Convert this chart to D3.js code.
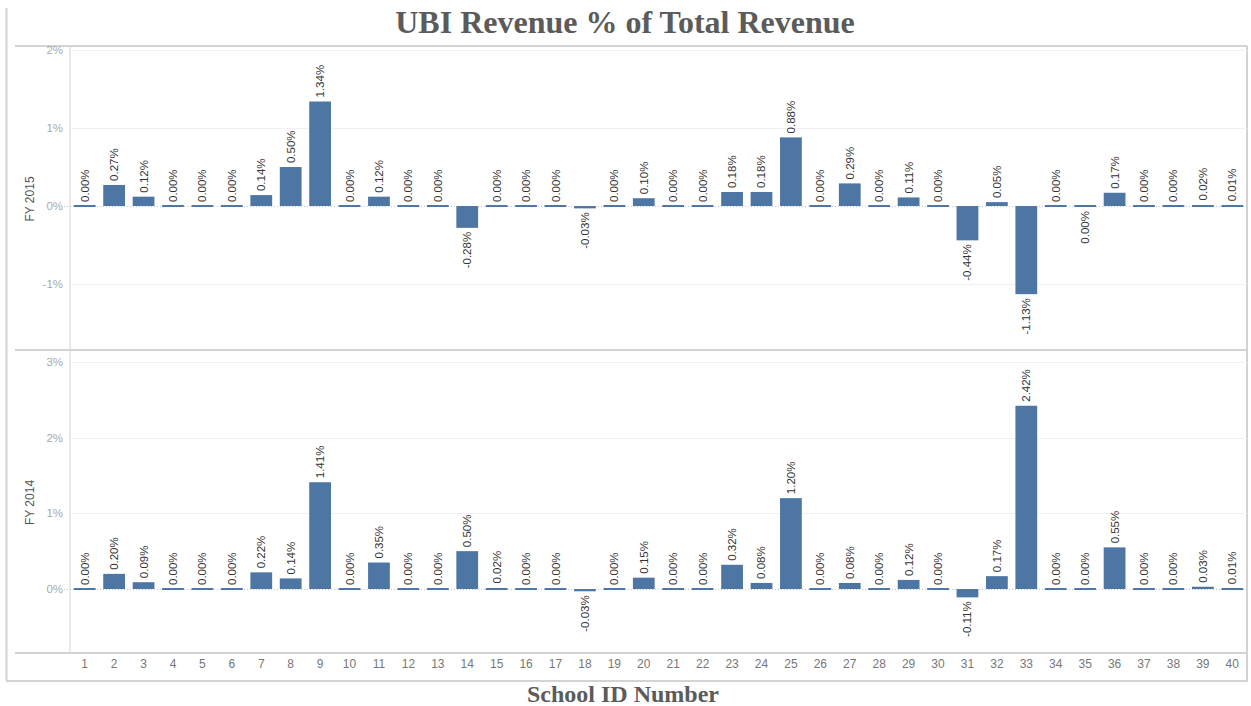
<!DOCTYPE html>
<html>
<head>
<meta charset="utf-8">
<script src="https://cdn.jsdelivr.net/npm/d3@7"></script>
<style>
body { margin: 0; background: #fff; }
svg { display: block; }
</style>
</head>
<body>
<div id="chart"></div>
<script>
/* global d3 */
var schoolIds = d3.range(1, 41).map(String);
var fy2015 = [0.00, 0.27, 0.12, 0.00, 0.00, 0.00, 0.14, 0.50, 1.34, 0.00,
	0.12, 0.00, 0.00, -0.28, 0.00, 0.00, 0.00, -0.03, 0.00, 0.10,
	0.00, 0.00, 0.18, 0.18, 0.88, 0.00, 0.29, 0.00, 0.11, 0.00,
	-0.44, 0.05, -1.13, 0.00, -0.001, 0.17, 0.00, 0.00, 0.02, 0.01];
var fy2014 = [0.00, 0.20, 0.09, 0.00, 0.00, 0.00, 0.22, 0.14, 1.41, 0.00,
	0.35, 0.00, 0.00, 0.50, 0.02, 0.00, 0.00, -0.03, 0.00, 0.15,
	0.00, 0.00, 0.32, 0.08, 1.20, 0.00, 0.08, 0.00, 0.12, 0.00,
	-0.11, 0.17, 2.42, 0.00, 0.00, 0.55, 0.00, 0.00, 0.03, 0.01];
var rowNames = ["FY 2015", "FY 2014"];
var rowTicks = [[-1, 0, 1, 2], [0, 1, 2, 3]];
var rowDomains = [[-1.846, 2.026], [-0.845, 3.13]];

var width = 1251, height = 706;
var barColor = "#4e76a5";
var lineColor = "#d3d3d3";
var left = 70, right = 1247;
var panels = [{ top: 48, bottom: 350, data: fy2015 }, { top: 352, bottom: 653, data: fy2014 }];

var locale = d3.formatLocale({ decimal: ".", thousands: ",", grouping: [3], currency: ["", ""], minus: "-" });
var fmt = locale.format(".2f");

var svg = d3.select("#chart").append("svg").attr("width", width).attr("height", height);

var x = d3.scaleBand().domain(schoolIds).range([left, right]).paddingInner(0.26).paddingOuter(0.13);

// title
svg.append("text").attr("x", 625).attr("y", 33).attr("text-anchor", "middle")
	.style("font-family", "'Liberation Serif', 'Times New Roman', serif").style("font-weight", "bold")
	.style("font-size", "32px").style("fill", "#5b5b5b").text("UBI Revenue % of Total Revenue");

// outer frame
svg.append("line").attr("x1", 6.5).attr("x2", 6.5).attr("y1", 8).attr("y2", 681).attr("stroke", lineColor).attr("stroke-width", 2);
svg.append("line").attr("x1", 6).attr("x2", 1248).attr("y1", 681).attr("y2", 681).attr("stroke", lineColor).attr("stroke-width", 2);
svg.append("line").attr("x1", 1247).attr("x2", 1247).attr("y1", 46).attr("y2", 681).attr("stroke", lineColor).attr("stroke-width", 2);

// panel separators
[46, 350, 653].forEach(function(yy) {
	svg.append("line").attr("x1", 15).attr("x2", 1247).attr("y1", yy).attr("y2", yy)
		.attr("stroke", lineColor).attr("stroke-width", 2);
});
svg.append("line").attr("x1", left).attr("x2", left).attr("y1", 46).attr("y2", 653)
	.attr("stroke", lineColor).attr("stroke-width", 1);

panels.forEach(function(p, i) {
	var y = d3.scaleLinear().domain(rowDomains[i]).range([p.bottom, p.top]);
	var g = svg.append("g");

	// gridlines
	g.selectAll(".grid").data(rowTicks[i].filter(function(t) { return t !== 0; })).enter()
		.append("line").attr("x1", left + 1).attr("x2", right)
		.attr("y1", function(d) { return Math.round(y(d)) + 0.5; })
		.attr("y2", function(d) { return Math.round(y(d)) + 0.5; })
		.attr("stroke", "#f0f0f0").attr("stroke-width", 1);

	// zero line
	g.append("line").attr("x1", left - 6).attr("x2", right)
		.attr("y1", Math.round(y(0)) + 0.5).attr("y2", Math.round(y(0)) + 0.5)
		.attr("stroke", "#c4c4c4").attr("stroke-dasharray", "1,2");

	// y axis
	var axis = d3.axisLeft(y).tickValues(rowTicks[i]).tickSize(0).tickPadding(7)
		.tickFormat(function(d) { return locale.format("d")(d) + "%"; });
	var ax = g.append("g").attr("transform", "translate(" + (left) + ",0)").call(axis);
	ax.select(".domain").remove();
	ax.selectAll("text").style("font-family", "Arial, 'Liberation Sans', sans-serif")
		.style("font-size", "11.5px").style("fill", "#a9a9a9");

	// row label
	g.append("text").attr("transform", "translate(34," + ((p.top + p.bottom) / 2) + ") rotate(-90)")
		.attr("text-anchor", "middle")
		.style("font-family", "Arial, 'Liberation Sans', sans-serif").style("font-size", "12px")
		.style("fill", "#555").text(rowNames[i]);

	// bars
	g.selectAll(".bar").data(p.data).enter().append("rect")
		.attr("x", function(d, k) { return x(schoolIds[k]); })
		.attr("width", x.bandwidth())
		.attr("y", function(d) {
			var h = Math.abs(y(d) - y(0));
			return h < 2 ? y(0) - 1 : Math.min(y(d), y(0));
		})
		.attr("height", function(d) { return Math.max(2, Math.abs(y(d) - y(0))); })
		.attr("fill", barColor);

	// labels
	g.selectAll(".lbl").data(p.data).enter().append("text")
		.attr("transform", function(d, k) {
			var cx = x(schoolIds[k]) + x.bandwidth() / 2 + 4;
			var yy = d < 0 ? y(d) + 4 : y(d) - 4;
			if (d < 0 && Math.abs(y(d) - y(0)) < 2) yy = y(0) + 5;
			return "translate(" + cx + "," + yy + ") rotate(-90)";
		})
		.attr("text-anchor", function(d) { return d < 0 ? "end" : "start"; })
		.style("font-family", "Arial, 'Liberation Sans', sans-serif").style("font-size", "11.5px")
		.style("fill", "#333")
		.text(function(d) { return fmt(d) + "%"; });
});

// x axis labels
var xAxis = d3.axisBottom(x).tickSize(0).tickPadding(6);
var xg = svg.append("g").attr("transform", "translate(0,653)").call(xAxis);
xg.select(".domain").remove();
xg.selectAll("text").style("font-family", "Arial, 'Liberation Sans', sans-serif")
	.style("font-size", "12px").style("fill", "#777");

svg.append("text").attr("x", 623).attr("y", 702).attr("text-anchor", "middle")
	.style("font-family", "'Liberation Serif', 'Times New Roman', serif").style("font-weight", "bold")
	.style("font-size", "24px").style("fill", "#5b5b5b").text("School ID Number");
</script>
</body>
</html>
